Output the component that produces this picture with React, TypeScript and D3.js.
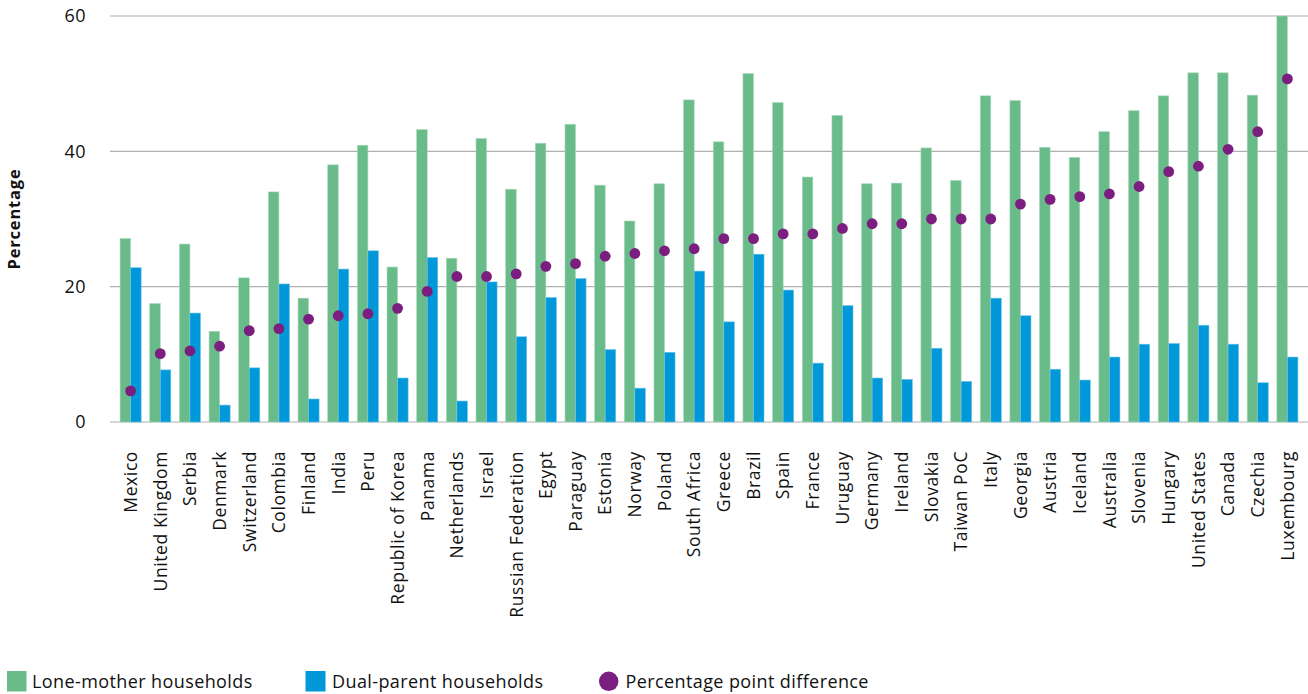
import React from "react";
import * as d3 from "d3";

const categories = ["Mexico","United Kingdom","Serbia","Denmark","Switzerland","Colombia","Finland","India","Peru","Republic of Korea","Panama","Netherlands","Israel","Russian Federation","Egypt","Paraguay","Estonia","Norway","Poland","South Africa","Greece","Brazil","Spain","France","Uruguay","Germany","Ireland","Slovakia","Taiwan PoC","Italy","Georgia","Austria","Iceland","Australia","Slovenia","Hungary","United States","Canada","Czechia","Luxembourg"];

const loneMother = [27.1,17.5,26.3,13.4,21.3,34.0,18.3,38.0,40.9,22.9,43.2,24.2,41.9,34.4,41.2,44.0,35.0,29.7,35.2,47.6,41.4,51.5,47.2,36.2,45.3,35.2,35.3,40.5,35.7,48.2,47.5,40.6,39.1,42.9,46.0,48.2,51.6,51.6,48.3,60.3];
const dualParent = [22.8,7.7,16.1,2.5,8.0,20.4,3.4,22.6,25.3,6.5,24.3,3.1,20.7,12.6,18.4,21.2,10.7,5.0,10.3,22.3,14.8,24.8,19.5,8.7,17.2,6.5,6.3,10.9,6.0,18.3,15.7,7.8,6.2,9.6,11.5,11.6,14.3,11.5,5.8,9.6];
const difference = [4.6,10.1,10.5,11.2,13.5,13.8,15.2,15.7,16.0,16.8,19.3,21.5,21.5,21.9,23.0,23.4,24.5,24.9,25.3,25.6,27.1,27.1,27.8,27.8,28.6,29.3,29.3,30.0,30.0,30.0,32.2,32.9,33.3,33.7,34.8,37.0,37.8,40.3,42.9,50.7];
const yTicks = [0,20,40,60];
const legendItems = ["Lone-mother households","Dual-parent households","Percentage point difference"];

const GREEN = "#69BB89";
const BLUE = "#0098D8";
const PURPLE = "#7B1E7F";
const FONT = "'Open Sans', Lato, sans-serif";

export default function App() {
  const W = 1308, H = 694;
  const x = d3.scaleBand<string>().domain(categories).range([110, 1308]).paddingInner(0.29).paddingOuter(0.34);
  const sub = d3.scaleBand<string>().domain(["lone","dual"]).range([0, x.bandwidth()]);
  const y = d3.scaleLinear().domain([0, 60]).range([422, 16]).clamp(true);

  return (
    <svg width={W} height={H} style={{ position: "absolute", left: 0, top: 0, background: "#fff" }} fontFamily={FONT}>
      {yTicks.map(t => (
        <g key={t}>
          <line x1={110} x2={1308} y1={y(t)} y2={y(t)} stroke="#b0b0b0" strokeWidth={1.2} />
          <text x={86} y={y(t)} dy="0.35em" textAnchor="end" fontSize={18} letterSpacing={0.5} fill="#111">{t}</text>
        </g>
      ))}
      <text transform={`translate(20,219) rotate(-90)`} textAnchor="middle" fontSize={16.5} letterSpacing={0.8} fontWeight="bold" fill="#111">Percentage</text>
      {categories.map((c, i) => {
        const x0 = x(c)!;
        return (
          <g key={c}>
            <rect x={x0 + sub("lone")!} y={y(loneMother[i])} width={sub.bandwidth()} height={y(0) - y(loneMother[i])} fill={GREEN} stroke="#a6d9b8" strokeWidth={0.6} />
            <rect x={x0 + sub("dual")!} y={y(dualParent[i])} width={sub.bandwidth()} height={y(0) - y(dualParent[i])} fill={BLUE} stroke="#6cc3ea" strokeWidth={0.6} />
          </g>
        );
      })}
      {categories.map((c, i) => (
        <circle key={c} cx={x(c)! + x.bandwidth() / 2} cy={y(difference[i])} r={5.4} fill={PURPLE} />
      ))}
      {categories.map(c => (
        <text key={c} transform={`translate(${x(c)! + x.bandwidth() / 2},451) rotate(-90)`} dy="0.36em" textAnchor="end" fontSize={17.5} letterSpacing={0.6} fill="#111">{c}</text>
      ))}
      <g>
        <rect x={7} y={671} width={19.5} height={20.5} fill={GREEN} />
        <text x={32} y={688} fontSize={18} letterSpacing={0.4} fill="#111">{legendItems[0]}</text>
        <rect x={305.5} y={671} width={20} height={20.5} fill={BLUE} />
        <text x={332} y={688} fontSize={18} letterSpacing={0.4} fill="#111">{legendItems[1]}</text>
        <circle cx={608.7} cy={681.3} r={9.7} fill={PURPLE} />
        <text x={625.5} y={688} fontSize={18} letterSpacing={0.4} fill="#111">{legendItems[2]}</text>
      </g>
    </svg>
  );
}
